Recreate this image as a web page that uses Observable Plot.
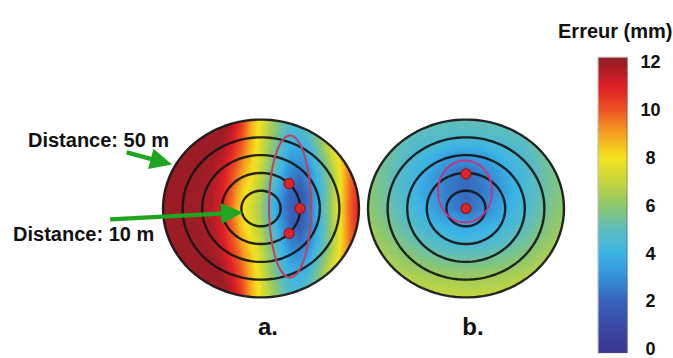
<!DOCTYPE html>
<html><head><meta charset="utf-8">
<script src="https://cdn.jsdelivr.net/npm/d3@7"></script>
<script src="https://cdn.jsdelivr.net/npm/@observablehq/plot@0.6"></script>
<style>
html,body{margin:0;padding:0;background:#fff;}
#wrap{position:relative;width:673px;height:358px;overflow:hidden;font-family:"Liberation Sans",Arial,sans-serif;}
#wrap svg{position:absolute;top:0;background:transparent;}
</style></head><body><div id="wrap"></div>
<script>
// ---------- data ----------
const panels = ["a", "b"];
const ringRadii = [10, 20, 30, 40, 50];           // distance rings (m)
const outerRadius = 50;

// panel a : error (mm) on a grid (x every 5 m, y every 10 m)
const gridXA = [-50,-45,-40,-35,-30,-25,-20,-15,-10,-5,0,5,10,15,20,25,30,35,40,45,50];
const gridYA = [50,40,30,20,10,0,-10,-20,-30,-40,-50];
const errorA = [
  [12,12,12,12,12,12,12,11.8,10.6,8.9,7.7,6.6,5.6,4.7,4.6,5.4,6.7,8,9.3,10.5,11.4],
  [12,12,12,12,12,12,12,11.3,10.2,8.8,7.5,6.3,5.2,4.3,4.2,4.9,6.1,7.5,8.8,10.1,11.2],
  [12,12,12,12,12,12,11.7,10.8,9.7,8.5,7.3,6,4.6,3.5,3.4,4,5.4,6.8,8.3,9.8,11.1],
  [12,12,12,12,12,11.8,11.3,10.3,9.1,8.1,7,5.6,4.1,2.8,2.5,3.1,4.5,6,7.8,9.6,11],
  [12,12,12,12,11.9,11.7,11.1,9.9,8.5,7.6,6.6,4.9,3.3,2.1,1.7,2.6,4.2,5.9,7.8,9.6,11],
  [12,12,12,12,11.9,11.6,11,9.6,8.2,7.3,6.3,4.5,3,2,1.6,2.6,4.3,6,7.9,9.7,11.1],
  [12,12,12,12,11.9,11.7,11.1,9.9,8.5,7.6,6.6,4.9,3.3,2.1,1.7,2.6,4.2,5.9,7.8,9.6,11],
  [12,12,12,12,12,11.8,11.3,10.3,9.1,8.1,7,5.6,4.1,2.8,2.5,3.1,4.5,6,7.8,9.6,11],
  [12,12,12,12,12,12,11.7,10.8,9.7,8.5,7.3,6,4.6,3.5,3.4,4,5.4,6.8,8.3,9.8,11.1],
  [12,12,12,12,12,12,12,11.3,10.2,8.8,7.5,6.3,5.2,4.3,4.2,4.9,6.1,7.5,8.8,10.1,11.2],
  [12,12,12,12,12,12,12,11.8,10.6,8.9,7.7,6.6,5.6,4.7,4.6,5.4,6.7,8,9.3,10.5,11.4]
];

// panel b : error (mm) on a 10 m grid
const gridXB = [-50,-40,-30,-20,-10,0,10,20,30,40,50];
const gridYB = [50,40,30,20,10,0,-10,-20,-30,-40,-50];
const errorB = [
  [6.2,5.8,5.5,5.3,5.2,5.2,5.2,5.3,5.5,5.8,6.2],
  [6.0,5.6,5.1,4.8,4.7,4.6,4.7,4.8,5.1,5.6,6.0],
  [6.0,5.4,4.7,4.2,3.6,3.3,3.6,4.2,4.7,5.4,6.0],
  [6.0,5.3,4.5,3.7,2.8,2.2,2.8,3.7,4.5,5.3,6.0],
  [6.0,5.3,4.4,3.5,2.6,2.1,2.6,3.5,4.4,5.3,6.0],
  [6.1,5.4,4.6,3.8,2.9,2.2,2.9,3.8,4.6,5.4,6.1],
  [6.3,5.7,5.0,4.3,3.9,3.6,3.9,4.3,5.0,5.7,6.3],
  [6.6,6.1,5.5,5.0,4.6,4.5,4.6,5.0,5.5,6.1,6.6],
  [7.0,6.6,6.1,5.8,5.6,5.5,5.6,5.8,6.1,6.6,7.0],
  [7.4,7.1,6.8,6.6,6.5,6.4,6.5,6.6,6.8,7.1,7.4],
  [7.6,7.4,7.2,7.1,7.0,7.0,7.0,7.1,7.2,7.4,7.6]
];

// stations (m)
const stationsA = [[14.3, 14], [19.9, 0], [14.3, -14]];
const stationsB = [[0, 19.5], [0, 0]];
// station zones: [cx, cy, rx, ry] (m)
const zoneA = [14.8, 1.1, 10.7, 39.9];
const zoneB = [-0.5, 9.6, 13.8, 17.4];

// annotations (panel a)
const annotations = [
  {text: "Distance: 50 m", x: -118.9, y: 37.9, tipX: -45.4, tipY: 24.7, length: 47, rotate: 105},
  {text: "Distance: 10 m", x: -126.5, y: -14.4, tipX: -9.2, tipY: -2.2, length: 133, rotate: 87}
];

// colour bar
const legendTicks = [0, 2, 4, 6, 8, 10, 12];
const colorStops = [0,1,2,3,4,5,6,7,8,9,10,11,12];
const colorRange = ["#3a3893","#3a4ba5","#3661ba","#3590d8","#3bb4e6","#5cbdbf","#8dc76f",
                    "#c5d63e","#f3e41d","#f5a31e","#ee5522","#e01f26","#9c1c25"];

// ---------- derived tables ----------
const samples = [];
function addGrid(panel, xs, ys, rows) {
  rows.forEach((row, i) => row.forEach((v, j) => samples.push({panel, x: xs[j], y: ys[i], error: v})));
}
addGrid("a", gridXA, gridYA, errorA);
addGrid("b", gridXB, gridYB, errorB);

const angles = d3.range(0, 361, 4).map(d => d * Math.PI / 180);
const rings = panels.flatMap(p => ringRadii.flatMap(r =>
  angles.map(t => ({panel: p, r, x: r * Math.cos(t), y: r * Math.sin(t)}))));
const zonePts = (p, [cx, cy, rx, ry]) => angles.map(t => ({panel: p, x: cx + rx * Math.cos(t), y: cy + ry * Math.sin(t)}));
const zonesA = zonePts("a", zoneA);
const zonesB = zonePts("b", zoneB);
const stations = [
  ...stationsA.map(([x, y]) => ({panel: "a", x, y})),
  ...stationsB.map(([x, y]) => ({panel: "b", x, y}))
];
const outerClip = {type: "Polygon", coordinates: [angles.map(t => [outerRadius * Math.cos(t), outerRadius * Math.sin(t)])]};
const notes = annotations.map(d => ({...d, panel: "a"}));

const colorOpts = {type: "linear", domain: colorStops, range: colorRange, clamp: true};
const font = '"Liberation Sans", Arial, sans-serif';

// filled arrow shape (shaft + triangular head)
const fatArrow = {
  draw(ctx, l) {
    const hl = 22, hw = 10.5, sw = 2.1;
    ctx.moveTo(-sw, 0);
    ctx.lineTo(-sw, -(l - hl));
    ctx.lineTo(-hw, -(l - hl));
    ctx.lineTo(0, -l);
    ctx.lineTo(hw, -(l - hl));
    ctx.lineTo(sw, -(l - hl));
    ctx.lineTo(sw, 0);
    ctx.closePath();
  }
};

const main = Plot.plot({
  width: 673, height: 358,
  marginLeft: 157.5, marginRight: 105.5, marginTop: 104.8, marginBottom: 46.8,
  fx: {domain: panels, padding: 0, axis: null},
  x: {domain: [-52.3, 52.3], axis: null},
  y: {domain: [-58, 58], axis: null},
  color: colorOpts,
  length: {type: "identity"},
  style: {fontFamily: font, background: "transparent", overflow: "visible"},
  marks: [
    Plot.raster(samples, {x: "x", y: "y", fill: "error", fx: "panel", interpolate: "barycentric", clip: outerClip}),
    Plot.line(rings, {x: "x", y: "y", z: "r", fx: "panel", stroke: "#151515", strokeWidth: 2.4, strokeOpacity: 0.92}),
    Plot.line(zonesA, {x: "x", y: "y", fx: "panel", stroke: "#c2405c", strokeWidth: 2}),
    Plot.line(zonesB, {x: "x", y: "y", fx: "panel", stroke: "#cf2f7c", strokeWidth: 1.8}),
    Plot.dot(stations, {x: "x", y: "y", fx: "panel", r: 5, fill: "#d8262a", stroke: "#9a1414", strokeWidth: 1.2}),
    Plot.vector(notes, {x: "tipX", y: "tipY", fx: "panel", length: "length", rotate: "rotate", anchor: "end",
      shape: fatArrow, fill: "#1fa51f", stroke: "none"}),
    Plot.text(notes, {x: "x", y: "y", fx: "panel", text: "text", textAnchor: "start", fontSize: 20, fontWeight: "bold", fill: "#111"}),
    Plot.text(panels, {fx: d => d, text: d => d + ".", frameAnchor: "bottom", dy: 23, dx: 7, fontSize: 24, fontWeight: "bold", fill: "#111"})
  ]
});

const legend = Plot.plot({
  width: 120, height: 358, margin: 0,
  x: {domain: [0, 1], range: [45, 74], axis: null},
  y: {domain: [0, 12], range: [349, 62], axis: null},
  color: colorOpts,
  style: {fontFamily: font, background: "transparent", overflow: "visible"},
  marks: [
    Plot.raster({fill: (x, y) => y, x1: 0, x2: 1, y1: -0.15, y2: 12.2}),
    Plot.rect([0], {x1: 0, x2: 1, y1: -0.15, y2: 12.2, fill: "none", stroke: "#555", strokeOpacity: 0.45}),
    Plot.text(legendTicks, {x: 1, y: d => d, text: d => String(d), dx: 23, fontSize: 18, fontWeight: "bold", fill: "#111"}),
    Plot.text(["Erreur (mm)"], {frameAnchor: "top-right", text: d => d, textAnchor: "end", dx: -1, dy: 23, fontSize: 20, fontWeight: "bold", fill: "#111"})
  ]
});

const wrap = document.getElementById("wrap");
main.style.left = "0px";
legend.style.left = "553px";
wrap.appendChild(main);
wrap.appendChild(legend);
</script></body></html>
